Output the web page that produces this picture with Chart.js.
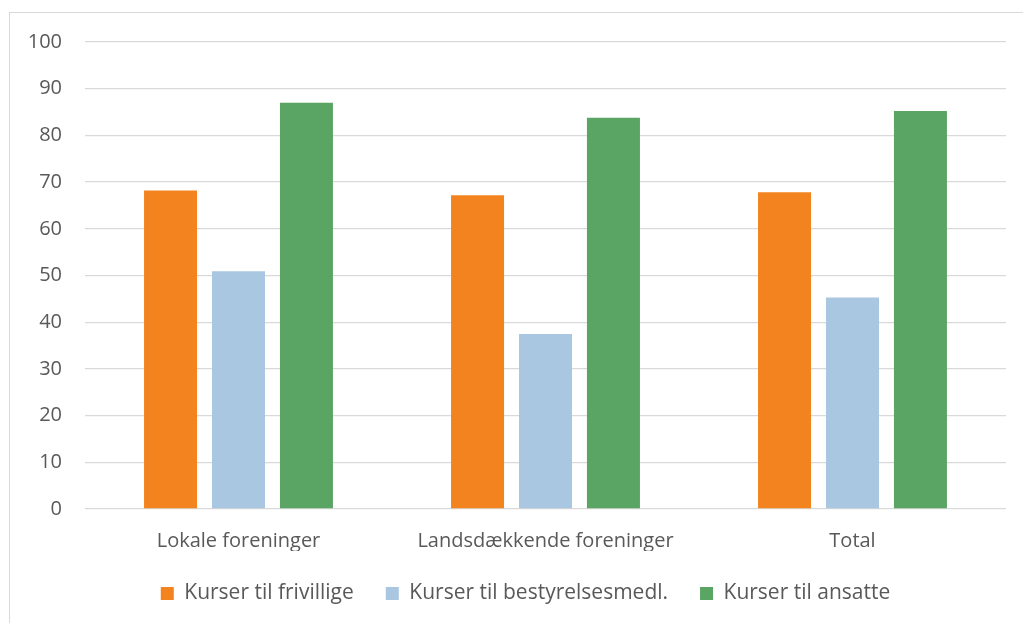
<!DOCTYPE html>
<html>
<head>
<meta charset="utf-8">
<script src="https://cdn.jsdelivr.net/npm/chart.js@4"></script>
<style>
    html, body { margin: 0; padding: 0; background: #fff; overflow: hidden; }
    #frame {
        position: absolute; left: 9px; top: 12px;
        width: 1100px; height: 700px;
        border: 1px solid #d9d9d9;
    }
    #wrap { position: absolute; left: 0; top: 0; width: 1023px; height: 623px; }
</style>
</head>
<body>
<div id="frame"></div>
<div id="wrap"><canvas id="chart"></canvas></div>
<script>
// ---------- data ----------
const categories = ['Lokale foreninger', 'Landsdækkende foreninger', 'Total'];
const seriesNames = ['Kurser til frivillige', 'Kurser til bestyrelsesmedl.', 'Kurser til ansatte'];
const frivillige = [68.2, 67.2, 67.8];
const bestyrelse = [50.9, 37.5, 45.3];
const ansatte = [87.0, 83.8, 85.2];
const yTicks = [0, 10, 20, 30, 40, 50, 60, 70, 80, 90, 100];

const colors = ['#F3831F', '#A9C7E0', '#5AA564'];
const textColor = '#595959';
const fontFamily = "'Open Sans', 'Liberation Sans', sans-serif";

// ---------- chart ----------
const ctx = document.getElementById('chart');
new Chart(ctx, {
    type: 'bar',
    data: {
        labels: categories,
        datasets: [frivillige, bestyrelse, ansatte].map((vals, i) => ({
            label: seriesNames[i],
            data: vals,
            backgroundColor: colors[i],
            categoryPercentage: 0.664,
            barPercentage: 0.78
        }))
    },
    options: {
        responsive: true,
        maintainAspectRatio: false,
        animation: false,
        // left padding + empty right axis so the legend centres where the original does
        layout: { padding: { left: 28, right: 0, top: 42, bottom: 9 } },
        plugins: {
            tooltip: { enabled: false },
            legend: {
                position: 'bottom',
                labels: {
                    boxWidth: 13,
                    boxHeight: 13,
                    padding: 32,
                    color: textColor,
                    font: { family: fontFamily, size: 21 }
                }
            }
        },
        scales: {
            x: {
                grid: { display: false },
                border: { display: false },
                afterFit: (scale) => { scale.height = 42; },
                ticks: {
                    color: textColor,
                    padding: 12,
                    font: { family: fontFamily, size: 20 }
                }
            },
            y: {
                min: 0,
                max: 100,
                afterBuildTicks: (scale) => {
                    scale.ticks = yTicks.map(v => ({ value: v }));
                },
                afterFit: (scale) => { scale.width = 57; },
                grid: { color: '#d9d9d9', lineWidth: 1.3, drawTicks: false },
                border: { display: false },
                ticks: {
                    color: textColor,
                    padding: 23,
                    font: { family: fontFamily, size: 20 }
                }
            },
            yRight: {
                position: 'right',
                grid: { display: false },
                border: { display: false },
                ticks: { display: false },
                afterFit: (scale) => { scale.width = 17; }
            }
        }
    }
});
</script>
</body>
</html>
